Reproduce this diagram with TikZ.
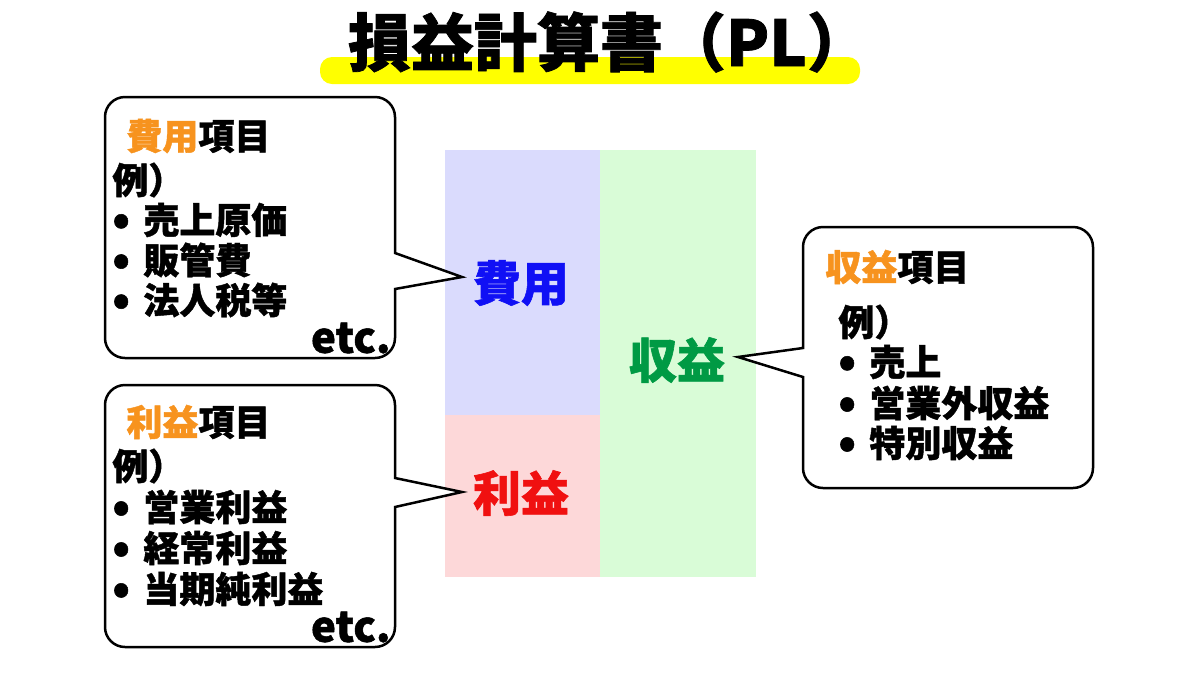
\documentclass[tikz,border=0pt]{standalone}
\usepackage{fontspec}
\setmainfont{Noto Sans CJK JP}[BoldFeatures={FakeBold=1.2}]
\definecolor{accent}{HTML}{F7931E}
\definecolor{costblue}{HTML}{1010F5}
\definecolor{profred}{HTML}{F01010}
\definecolor{revgreen}{HTML}{009A44}
\definecolor{fillblue}{HTML}{DADBFD}
\definecolor{fillpink}{HTML}{FDD8D9}
\definecolor{fillgreen}{HTML}{D9FCD7}
\definecolor{hl}{HTML}{FFFF00}
\tikzset{
  callout/.style={draw=black, line width=1.25pt, fill=white, line join=miter},
  txt/.style={anchor=west, inner sep=0pt, font=\bfseries\fontsize{18pt}{20pt}\selectfont},
  etc/.style={anchor=east, inner sep=0pt, font=\bfseries\fontsize{21pt}{23pt}\selectfont},
  big/.style={inner sep=0pt, font=\bfseries\fontsize{24pt}{26pt}\selectfont},
}
\newcommand{\bul}{\makebox[15.5pt][l]{\raisebox{-0.5pt}{\fontsize{22pt}{22pt}\selectfont •}}}
\begin{document}
\begin{tikzpicture}[x=0.5pt,y=-0.5pt]
\useasboundingbox (0,0) rectangle (1200,676);
% title
\fill[hl, rounded corners=6pt] (320,57) rectangle (860,84);
\node[inner sep=0pt, font=\bfseries\fontsize{31.5pt}{33pt}\selectfont] (title) at (609,42) {損益計算書（PL）};
% PL blocks
\fill[fillblue] (445,150) rectangle (600,415);
\fill[fillpink] (445,415) rectangle (600,577);
\fill[fillgreen] (600,150) rectangle (756,577);
\node[big, text=costblue] (cost) at (521,283) {費用};
\node[big, text=profred] (profit) at (521,493) {利益};
\node[big, text=revgreen] (rev) at (677,360) {収益};
% callout 1 (cost)
\draw[callout] (250,97) [rounded corners=10pt] -- (395,97) [sharp corners] -- (395,253) -- (462,277) -- (395,289) [rounded corners=10pt] -- (395,358) -- (105,358) -- (105,97) -- cycle;
\node[txt] (c1h) at (126,136) {\textcolor{accent}{費用}項目};
\node[txt] (c1e) at (112,180) {例）};
\node[txt] (c1a) at (112,220) {\bul 売上原価};
\node[txt] (c1b) at (112,260) {\bul 販管費};
\node[txt] (c1c) at (112,300) {\bul 法人税等};
\node[etc] (c1d) at (391,338) {etc.};
% callout 2 (profit)
\draw[callout] (250,385) [rounded corners=10pt] -- (395,385) [sharp corners] -- (395,478) -- (462,492) -- (395,507) [rounded corners=10pt] -- (395,647) -- (105,647) -- (105,385) -- cycle;
\node[txt] (c2h) at (126,422) {\textcolor{accent}{利益}項目};
\node[txt] (c2e) at (112,466) {例）};
\node[txt] (c2a) at (112,507) {\bul 営業利益};
\node[txt] (c2b) at (112,548) {\bul 経常利益};
\node[txt] (c2c) at (112,589) {\bul 当期純利益};
\node[etc] (c2d) at (391,627) {etc.};
% callout 3 (revenue)
\draw[callout] (950,227) [rounded corners=10pt] -- (1093,227) -- (1093,488) -- (803,488) [sharp corners] -- (803,377) -- (738,357) -- (803,348) [rounded corners=10pt] -- (803,227) -- cycle;
\node[txt] (c3h) at (825,267) {\textcolor{accent}{収益}項目};
\node[txt] (c3e) at (838,322) {例）};
\node[txt] (c3a) at (838,362) {\bul 売上};
\node[txt] (c3b) at (838,403) {\bul 営業外収益};
\node[txt] (c3c) at (838,443) {\bul 特別収益};
\end{tikzpicture}
\end{document}
